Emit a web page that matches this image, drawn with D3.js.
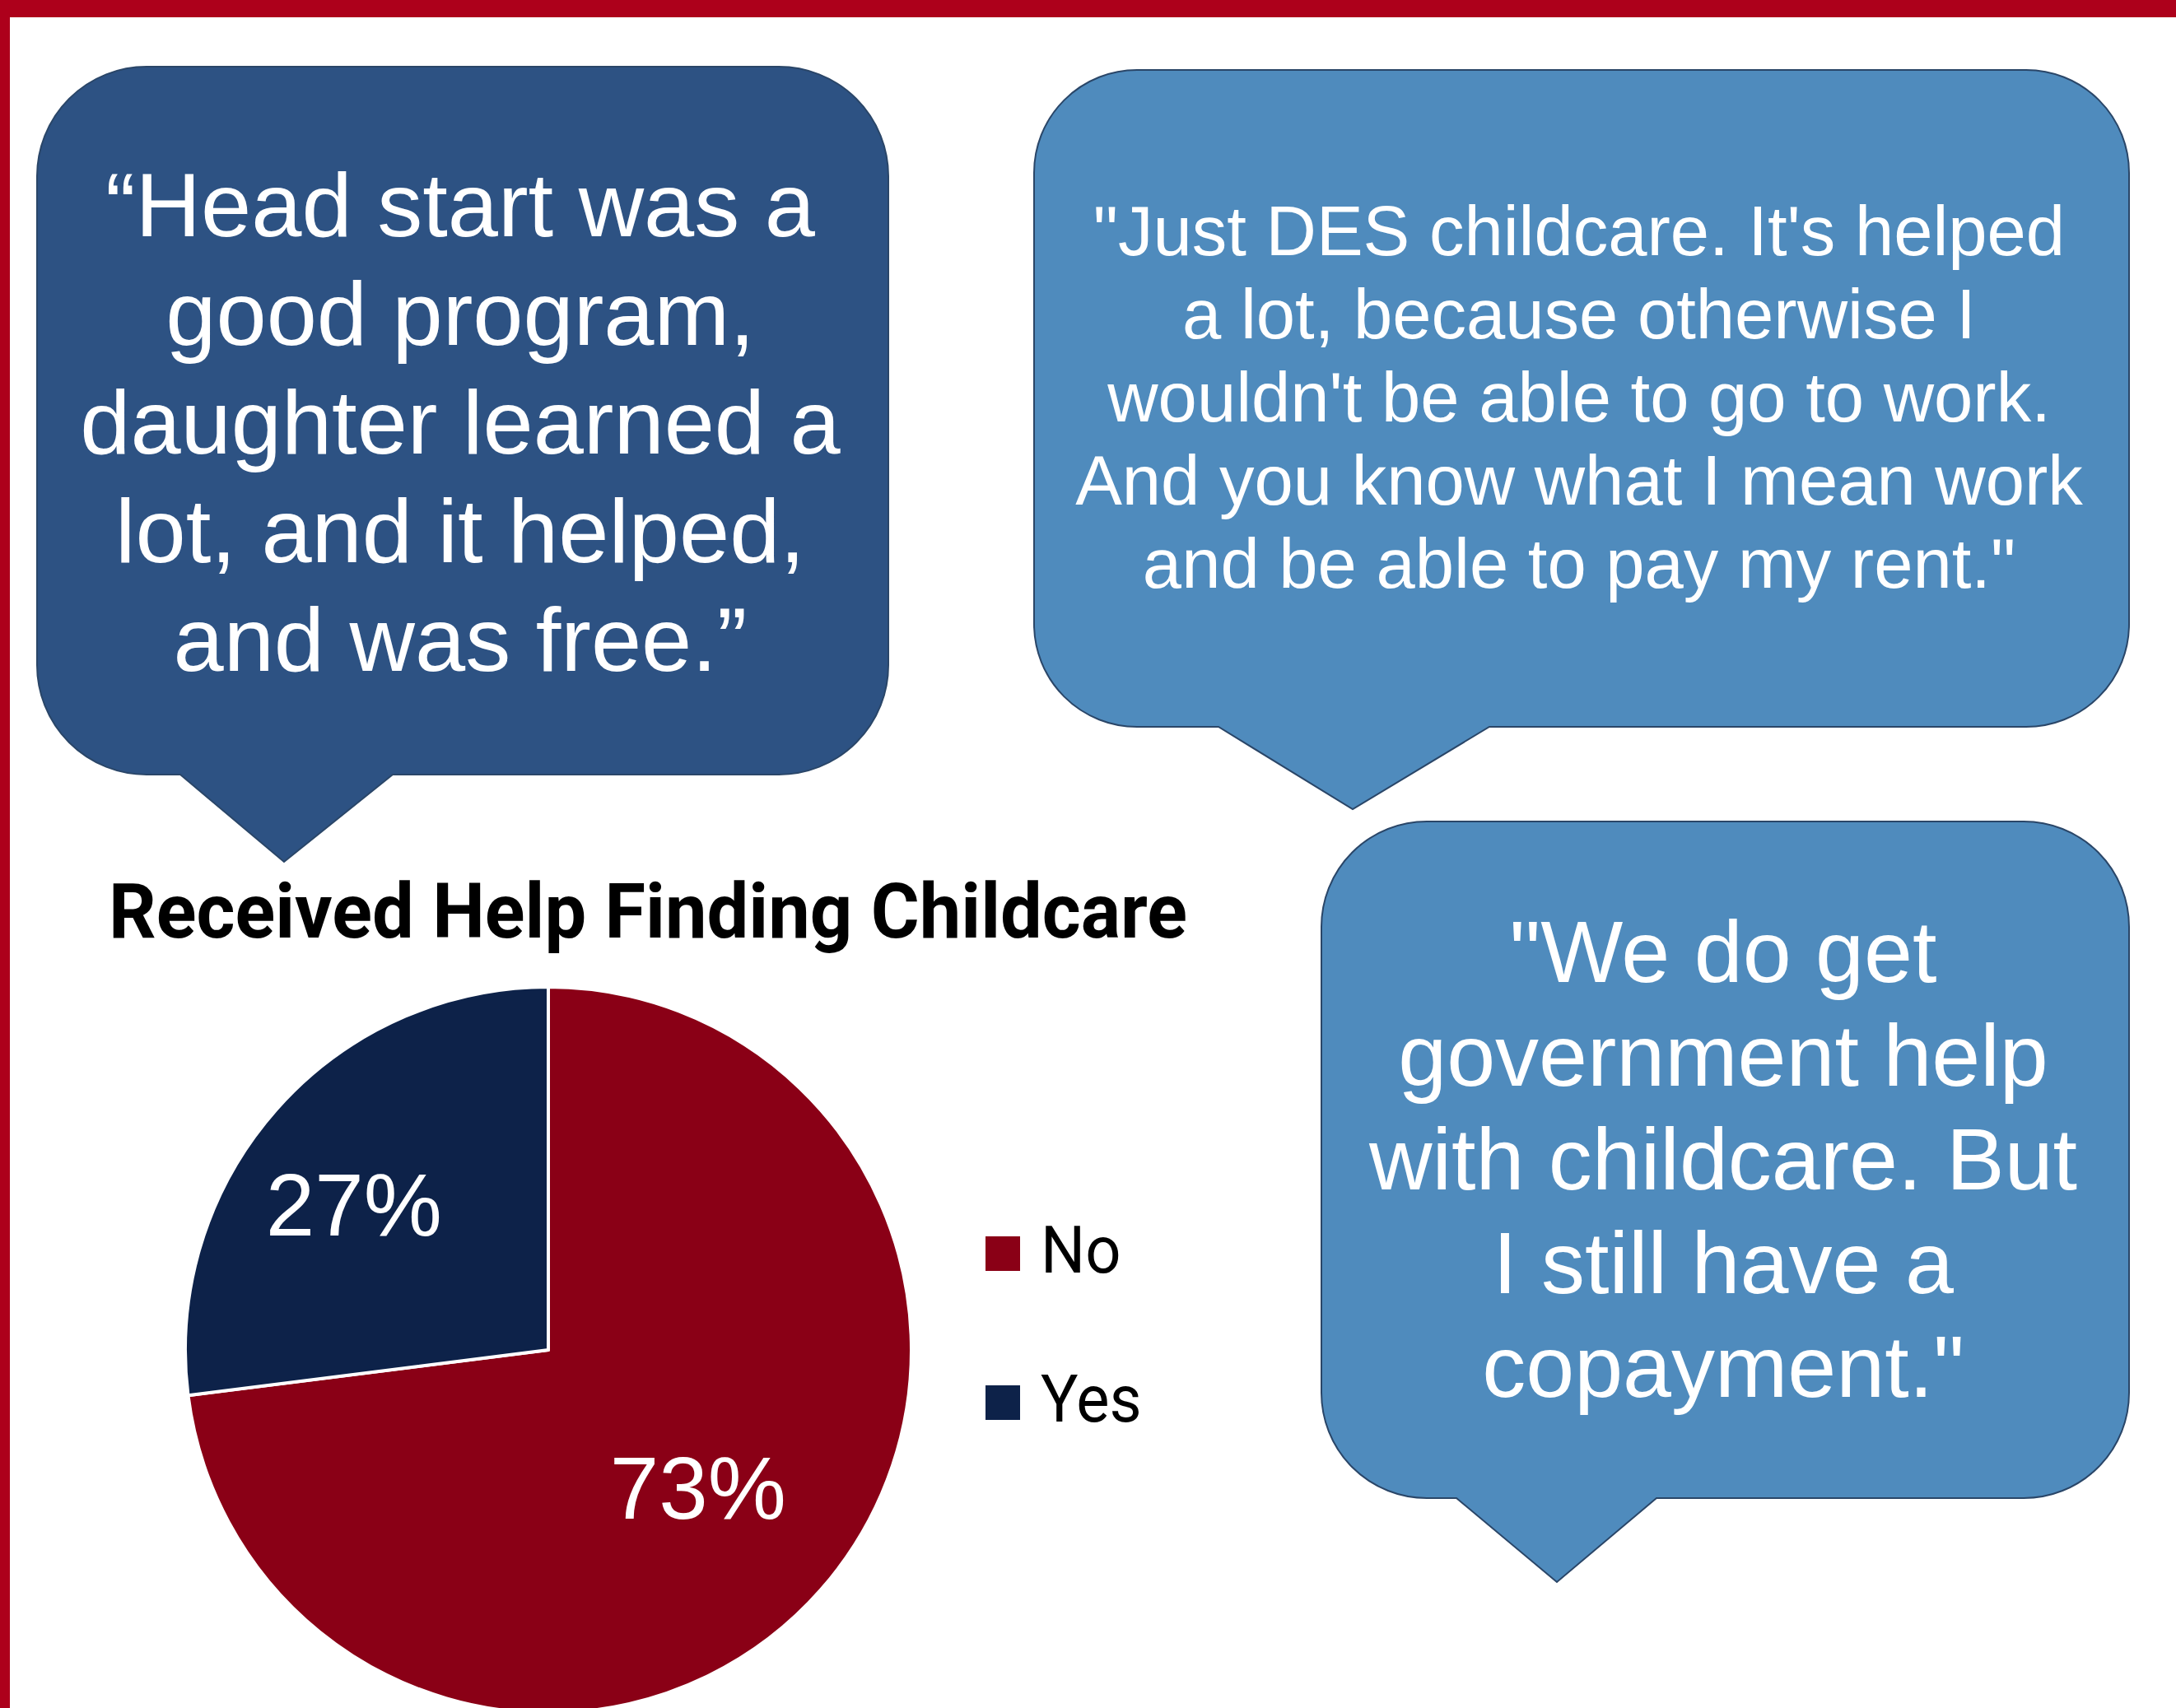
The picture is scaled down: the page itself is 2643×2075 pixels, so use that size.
<!DOCTYPE html>
<html>
<head>
<meta charset="utf-8">
<script src="https://cdn.jsdelivr.net/npm/d3@7"></script>
<style>
  html, body { margin: 0; padding: 0; background: #ffffff; }
  svg { display: block; }
</style>
</head>
<body>
<script>
// ---------------- DATA ----------------
const categories = ["No", "Yes"];
const values = [73, 27];
const valueLabels = ["73%", "27%"];
const chartTitle = "Received Help Finding Childcare";

const quote1Lines = ["\u201CHead start was a", "good program,", "daughter learned a", "lot, and it helped,", "and was free.\u201D"];
const quote2Lines = ["\"Just DES childcare. It's helped", "a lot, because otherwise I", "wouldn't be able to go to work.", "And you know what I mean work", "and be able to pay my rent.\""];
const quote3Lines = ["\"We do get", "government help", "with childcare. But", "I still have a", "copayment.\""];

// ---------------- LAYOUT ----------------
const W = 2643, H = 2075;
const colors = { No: "#8a0016", Yes: "#0d2249" };
const pieCenter = [666, 1640];
const pieRadius = 441;
const labelRadii = { No: 245, Yes: 295 };
const labelNudge = { No: [-2, 5], Yes: [-15, 18] };

const bubbles = [
  { lines: quote1Lines, x0: 45, y0: 81, x1: 1079, y1: 941, r: 133, tailL: 219, tailR: 477, tipX: 345, tipY: 1047,
    fill: "#2d5283", cx: 559, base: 287, step: 132, size: 110 },
  { lines: quote2Lines, x0: 1256, y0: 85, x1: 2586, y1: 883, r: 125, tailL: 1480, tailR: 1809, tipX: 1643, tipY: 983,
    fill: "#4f8bbd", cx: 1918, base: 310, step: 101, size: 85 },
  { lines: quote3Lines, x0: 1605, y0: 998, x1: 2586, y1: 1820, r: 128, tailL: 1769, tailR: 2012, tipX: 1891, tipY: 1922,
    fill: "#4f8bbd", cx: 2093, base: 1193, step: 126, size: 106 }
];

const svg = d3.select("body").append("svg")
  .attr("width", W).attr("height", H)
  .attr("viewBox", `0 0 ${W} ${H}`);

svg.append("rect").attr("width", W).attr("height", H).attr("fill", "#ffffff");

// ---------------- BUBBLES ----------------
function bubblePath(b) {
  const p = d3.path();
  p.moveTo(b.x0 + b.r, b.y0);
  p.lineTo(b.x1 - b.r, b.y0);
  p.arcTo(b.x1, b.y0, b.x1, b.y0 + b.r, b.r);
  p.lineTo(b.x1, b.y1 - b.r);
  p.arcTo(b.x1, b.y1, b.x1 - b.r, b.y1, b.r);
  p.lineTo(b.tailR, b.y1);
  p.lineTo(b.tipX, b.tipY);
  p.lineTo(b.tailL, b.y1);
  p.lineTo(b.x0 + b.r, b.y1);
  p.arcTo(b.x0, b.y1, b.x0, b.y1 - b.r, b.r);
  p.lineTo(b.x0, b.y0 + b.r);
  p.arcTo(b.x0, b.y0, b.x0 + b.r, b.y0, b.r);
  p.closePath();
  return p.toString();
}

const bg = svg.append("g").attr("class", "bubbles");
bubbles.forEach(b => {
  bg.append("path")
    .attr("d", bubblePath(b))
    .attr("fill", b.fill)
    .attr("stroke", "#2a4668")
    .attr("stroke-width", 2);
  bg.append("g").selectAll("text")
    .data(b.lines)
    .join("text")
    .attr("x", b.cx)
    .attr("y", (d, i) => b.base + i * b.step)
    .attr("text-anchor", "middle")
    .attr("fill", "#ffffff")
    .attr("font-family", "'Liberation Sans', Arial, sans-serif")
    .attr("font-size", b.size)
    .text(d => d);
});

// ---------------- TITLE ----------------
svg.append("text")
  .attr("x", 132)
  .attr("y", 1139)
  .attr("font-family", "Roboto, 'DejaVu Sans Condensed', sans-serif")
  .attr("font-weight", 700)
  .attr("font-size", 92)
  .attr("fill", "#000000")
  .attr("textLength", 1310)
  .attr("lengthAdjust", "spacingAndGlyphs")
  .text(chartTitle);

// ---------------- PIE ----------------
const data = categories.map((c, i) => ({ cat: c, value: values[i], label: valueLabels[i] }));
const pie = d3.pie().value(d => d.value).sort(null);
const arcs = pie(data);
const arc = d3.arc().innerRadius(0).outerRadius(pieRadius);

const pg = svg.append("g").attr("transform", `translate(${pieCenter[0]},${pieCenter[1]})`);
pg.selectAll("path.slice")
  .data(arcs)
  .join("path")
  .attr("class", "slice")
  .attr("d", arc)
  .attr("fill", d => colors[d.data.cat])
  .attr("stroke", "#ffffff")
  .attr("stroke-width", 4)
  .attr("stroke-linejoin", "round");

const labelSize = 107;
pg.selectAll("text.lbl")
  .data(arcs)
  .join("text")
  .attr("class", "lbl")
  .attr("transform", d => {
    const r = labelRadii[d.data.cat];
    const c = d3.arc().innerRadius(r).outerRadius(r).centroid(d);
    const n = labelNudge[d.data.cat];
    return `translate(${c[0] + n[0]},${c[1] + n[1] + labelSize * 0.716 / 2})`;
  })
  .attr("text-anchor", "middle")
  .attr("fill", "#ffffff")
  .attr("font-family", "'Liberation Sans', Arial, sans-serif")
  .attr("font-size", labelSize)
  .text(d => d.data.label);

// ---------------- LEGEND ----------------
const legendY = d3.scalePoint().domain(categories).range([1502, 1683]);
const lg = svg.append("g").attr("class", "legend");
const li = lg.selectAll("g").data(categories).join("g")
  .attr("transform", d => `translate(1197,${legendY(d)})`);
li.append("rect").attr("width", 42).attr("height", 42).attr("fill", d => colors[d]);
li.append("text")
  .attr("transform", "translate(67,44) scale(0.95,1)")
  .attr("font-family", "Roboto, 'Liberation Sans', sans-serif")
  .attr("font-size", 80)
  .attr("fill", "#000000")
  .text(d => d);

// red frame (top + left), drawn last so it sits above everything
svg.append("rect").attr("x", 0).attr("y", 0).attr("width", W).attr("height", 21).attr("fill", "#ad001b");
svg.append("rect").attr("x", 0).attr("y", 0).attr("width", 12).attr("height", H).attr("fill", "#ad001b");
</script>
</body>
</html>
